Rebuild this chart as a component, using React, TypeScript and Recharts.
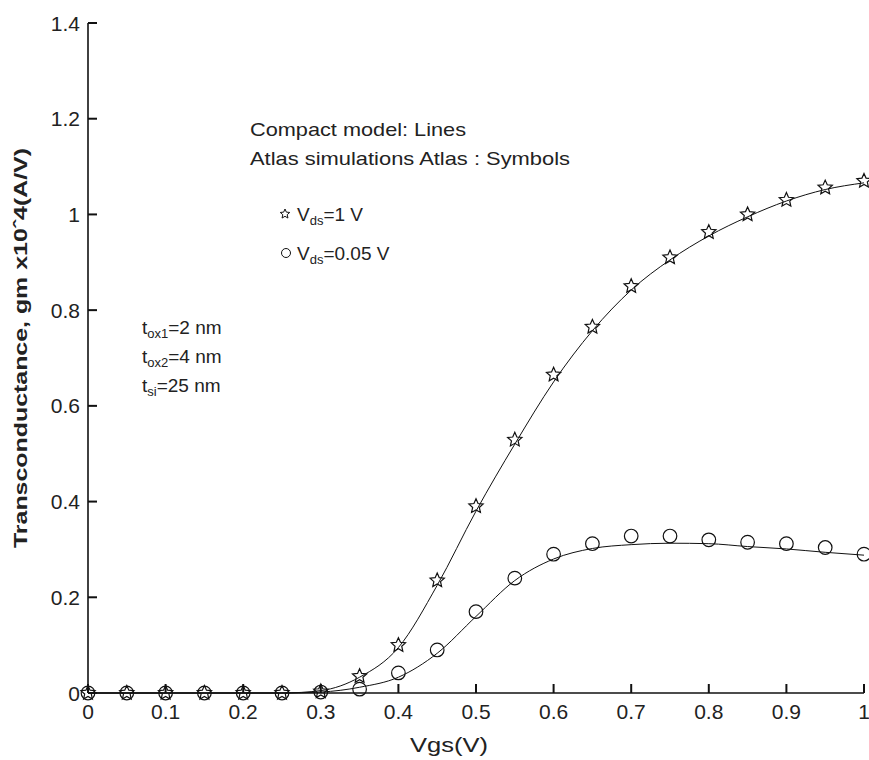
import React from "react";
import {
  ComposedChart,
  Line,
  XAxis,
  YAxis,
} from "recharts";

// Vgs sweep (V)
const vgs = [0, 0.05, 0.1, 0.15, 0.2, 0.25, 0.3, 0.35, 0.4, 0.45, 0.5, 0.55, 0.6, 0.65, 0.7, 0.75, 0.8, 0.85, 0.9, 0.95, 1];

// Atlas simulations (symbols), gm x10^4 (A/V)
const atlasVds1 = [0, 0, 0, 0, 0, 0, 0.003, 0.035, 0.1, 0.235, 0.39, 0.529, 0.665, 0.765, 0.85, 0.91, 0.963, 1.0, 1.03, 1.056, 1.07];
const atlasVds005 = [0, 0, 0, 0, 0, 0, 0.002, 0.008, 0.042, 0.09, 0.17, 0.24, 0.29, 0.312, 0.328, 0.328, 0.32, 0.315, 0.312, 0.304, 0.29];

// compact model (lines)
const modelVds1 = [0, 0, 0, 0, 0, 0, 0.005, 0.033, 0.095, 0.225, 0.38, 0.52, 0.65, 0.757, 0.842, 0.905, 0.955, 0.995, 1.028, 1.052, 1.066];
const modelVds005 = [0, 0, 0, 0, 0, 0, 0.002, 0.012, 0.033, 0.083, 0.16, 0.235, 0.28, 0.302, 0.31, 0.313, 0.312, 0.306, 0.301, 0.294, 0.288];

const xTicks = [0, 0.1, 0.2, 0.3, 0.4, 0.5, 0.6, 0.7, 0.8, 0.9, 1];
const yTicks = [0, 0.2, 0.4, 0.6, 0.8, 1, 1.2, 1.4];

const data = vgs.map((v, i) => ({
  v,
  s1: atlasVds1[i],
  s2: atlasVds005[i],
  m1: modelVds1[i],
  m2: modelVds005[i],
}));

const FONT = "'Liberation Sans', Arial, sans-serif";
const INK = "#222";
const TICK = 9;

function starPath(cx: number, cy: number, ro: number, ri: number) {
  let d = "";
  for (let k = 0; k < 10; k++) {
    const r = k % 2 === 0 ? ro : ri;
    const a = -Math.PI / 2 + (k * Math.PI) / 5;
    d += (k === 0 ? "M" : "L") + (cx + r * Math.cos(a)).toFixed(2) + "," + (cy + r * Math.sin(a)).toFixed(2);
  }
  return d + "Z";
}

const StarDot = (p: any) => {
  if (p.cx == null || p.cy == null) return <g key={p.key} />;
  return <path key={p.key} d={starPath(p.cx, p.cy, 7.5, 3.5)} fill="none" stroke="#111" strokeWidth={1.2} />;
};

const CircleDot = (p: any) => {
  if (p.cx == null || p.cy == null) return <g key={p.key} />;
  return <circle key={p.key} cx={p.cx} cy={p.cy} r={6.8} fill="none" stroke="#111" strokeWidth={1.2} />;
};

// inward ticks, drawn with the labels
const BottomTick = (p: any) => (
  <g>
    <line x1={p.x} y1={p.y} x2={p.x} y2={p.y - TICK} stroke="#111" strokeWidth={2} />
    <text x={p.x} y={p.y + 26} textAnchor="middle" fontSize={21} fill={INK} fontFamily={FONT}>
      {String(p.payload.value)}
    </text>
  </g>
);
const LeftTick = (p: any) => (
  <g>
    <line x1={p.x} y1={p.y} x2={p.x + TICK} y2={p.y} stroke="#111" strokeWidth={2} />
    <text x={p.x - 8} y={p.y + 7.5} textAnchor="end" fontSize={21} fill={INK} fontFamily={FONT}>
      {String(p.payload.value)}
    </text>
  </g>
);
const TopTick = (p: any) => (
  <line x1={p.x} y1={p.y} x2={p.x} y2={p.y + TICK} stroke="#111" strokeWidth={2} />
);
const RightTick = (p: any) => (
  <line x1={p.x} y1={p.y} x2={p.x - TICK} y2={p.y} stroke="#111" strokeWidth={2} />
);

const axisLine = { stroke: "#111", strokeWidth: 1.6 };

export default function App() {
  return (
    <div style={{ position: "absolute", left: 0, top: 0, width: 869, height: 760, background: "#fff" }}>
      <ComposedChart width={869} height={760} data={data} margin={{ top: 23, right: 5, left: 0, bottom: 0 }}>
        <XAxis
          dataKey="v"
          type="number"
          domain={[0, 1]}
          ticks={xTicks}
          height={67}
          tickSize={0}
          tickMargin={0}
          tickLine={false}
          axisLine={axisLine}
          tick={BottomTick}
          interval={0}
        />
        <XAxis
          xAxisId="top"
          orientation="top"
          dataKey="v"
          type="number"
          domain={[0, 1]}
          ticks={xTicks}
          height={0}
          tickSize={0}
          tickMargin={0}
          tickLine={false}
          axisLine={axisLine}
          tick={TopTick}
          interval={0}
        />
        <YAxis
          type="number"
          domain={[0, 1.4]}
          ticks={yTicks}
          width={88}
          tickSize={0}
          tickMargin={0}
          tickLine={false}
          axisLine={axisLine}
          tick={LeftTick}
          interval={0}
        />
        <YAxis
          yAxisId="right"
          orientation="right"
          type="number"
          domain={[0, 1.4]}
          ticks={yTicks}
          width={0}
          tickSize={0}
          tickMargin={0}
          tickLine={false}
          axisLine={axisLine}
          tick={RightTick}
          interval={0}
        />
        <Line dataKey="m1" type="monotone" stroke="#111" strokeWidth={1} dot={false} isAnimationActive={false} />
        <Line dataKey="m2" type="monotone" stroke="#111" strokeWidth={1} dot={false} isAnimationActive={false} />
        <Line dataKey="s1" stroke="none" dot={StarDot} activeDot={false} isAnimationActive={false} />
        <Line dataKey="s2" stroke="none" dot={CircleDot} activeDot={false} isAnimationActive={false} />
      </ComposedChart>

      <svg width={869} height={760} style={{ position: "absolute", left: 0, top: 0, pointerEvents: "none" }}>
        <g fontFamily={FONT} fill={INK}>
          <text x={250} y={136} fontSize={19} textLength={216} lengthAdjust="spacingAndGlyphs">Compact model: Lines</text>
          <text x={250} y={165} fontSize={19} textLength={320} lengthAdjust="spacingAndGlyphs">Atlas simulations Atlas : Symbols</text>

          <path d={starPath(285, 214, 5, 2.3)} fill="none" stroke="#111" strokeWidth={1} />
          <text x={297} y={221} fontSize={19}>
            V<tspan fontSize={13} dy={4}>ds</tspan><tspan dy={-4}>=1 V</tspan>
          </text>
          <circle cx={286} cy={253} r={4.5} fill="none" stroke="#111" strokeWidth={1} />
          <text x={297} y={260} fontSize={19}>
            V<tspan fontSize={13} dy={4}>ds</tspan><tspan dy={-4}>=0.05 V</tspan>
          </text>

          <text x={142} y={334} fontSize={19}>
            t<tspan fontSize={13} dy={4}>ox1</tspan><tspan dy={-4}>=2 nm</tspan>
          </text>
          <text x={142} y={363} fontSize={19}>
            t<tspan fontSize={13} dy={4}>ox2</tspan><tspan dy={-4}>=4 nm</tspan>
          </text>
          <text x={142} y={392} fontSize={19}>
            t<tspan fontSize={13} dy={4}>si</tspan><tspan dy={-4}>=25 nm</tspan>
          </text>

          <text x={449} y={752} fontSize={21} textAnchor="middle" textLength={78} lengthAdjust="spacingAndGlyphs">Vgs(V)</text>
          <text
            x={0}
            y={0}
            fontSize={19}
            fontWeight="bold"
            textAnchor="middle"
            textLength={400}
            lengthAdjust="spacingAndGlyphs"
            transform="translate(27,348) rotate(-90)"
          >
            Transconductance, gm x10ˆ4(A/V)
          </text>
        </g>
      </svg>
    </div>
  );
}
